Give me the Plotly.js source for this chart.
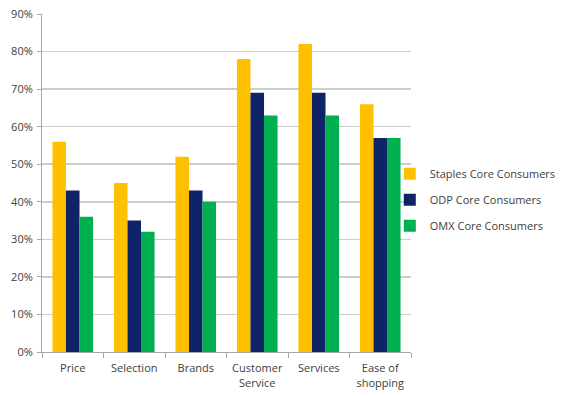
<!DOCTYPE html>
<html>
<head>
<meta charset="utf-8">
<script src="https://cdn.plot.ly/plotly-3.0.1.min.js"></script>
<style>
  html, body { margin: 0; padding: 0; background: #ffffff; }
  #chart { width: 572px; height: 396px; }
</style>
</head>
<body>
<div id="chart"></div>
<script>
// Share of core consumers rating each attribute, by retailer
const categories = ['Price', 'Selection', 'Brands', 'Customer<br>Service', 'Services', 'Ease of<br>shopping'];
const staplesValues = [56, 45, 52, 78, 82, 66];
const odpValues = [43, 35, 43, 69, 69, 57];
const omxValues = [36, 32, 40, 63, 63, 57];
const seriesNames = ['Staples Core Consumers', 'ODP Core Consumers', 'OMX Core Consumers'];
const yTickValues = [0, 10, 20, 30, 40, 50, 60, 70, 80, 90];
const yTickLabels = ['0%', '10%', '20%', '30%', '40%', '50%', '60%', '70%', '80%', '90%'];

const colors = ['#FFC000', '#0F2468', '#00B050'];
const seriesValues = [staplesValues, odpValues, omxValues];

const traces = seriesValues.map((vals, i) => ({
  type: 'bar',
  name: seriesNames[i],
  x: categories,
  y: vals,
  legendgroup: 'g' + i,
  marker: { color: colors[i], line: { width: 0 } },
  hoverinfo: 'x+y'
}));

const font = { family: 'Open Sans, Liberation Sans, sans-serif', size: 11, color: '#404040' };

const layout = {
  width: 572,
  height: 396,
  margin: { l: 42, r: 160, t: 14, b: 44 },
  paper_bgcolor: '#ffffff',
  plot_bgcolor: '#ffffff',
  font: font,
  barmode: 'group',
  bargap: 0.34,
  bargroupgap: 0,
  showlegend: true,
  legend: {
    x: 0.94, xanchor: 'left',
    y: 0.57, yanchor: 'top',
    traceorder: 'grouped',
    tracegroupgap: 7,
    font: font,
    bgcolor: 'rgba(0,0,0,0)'
  },
  xaxis: {
    type: 'category',
    showline: true,
    linecolor: '#a6a6a6',
    linewidth: 1,
    ticks: 'outside',
    tickson: 'boundaries',
    ticklen: 5,
    tickcolor: '#a6a6a6',
    showgrid: false,
    tickfont: font,
    ticklabelstandoff: 6,
    fixedrange: true
  },
  yaxis: {
    range: [0, 90],
    tickvals: yTickValues,
    ticktext: yTickLabels,
    showline: true,
    linecolor: '#a6a6a6',
    linewidth: 1,
    ticks: 'outside',
    ticklen: 4,
    tickcolor: '#a6a6a6',
    showgrid: true,
    gridcolor: '#cdcdcd',
    gridwidth: 1.5,
    zeroline: false,
    tickfont: font,
    ticklabelstandoff: 2,
    fixedrange: true
  }
};

Plotly.newPlot('chart', traces, layout, { displayModeBar: false, staticPlot: true });
</script>
</body>
</html>
